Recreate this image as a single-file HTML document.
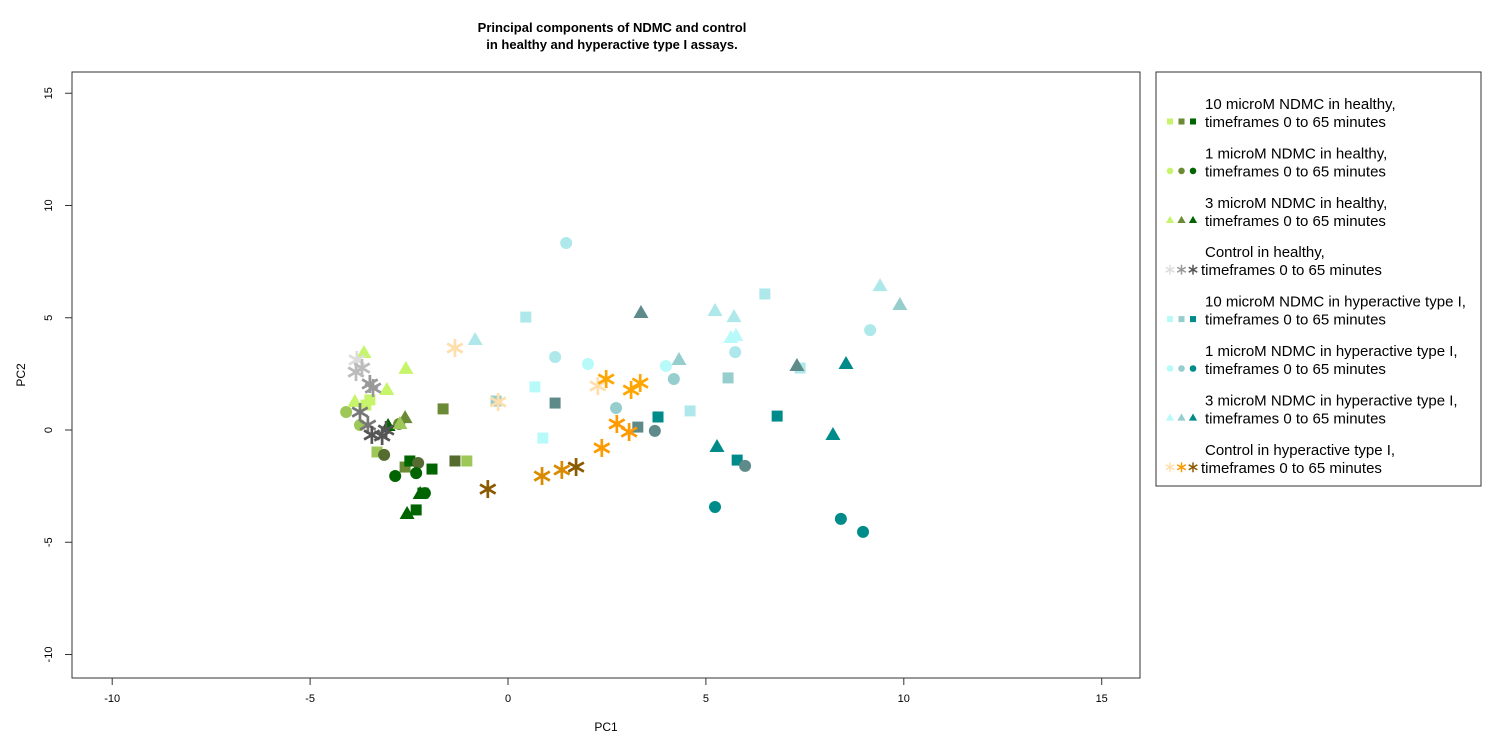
<!DOCTYPE html>
<html><head><meta charset="utf-8"><style>
body{margin:0;background:#fff;font-family:"Liberation Sans",sans-serif}
svg{display:block}
</style></head><body>
<svg id="chart" width="1500" height="750" font-family="Liberation Sans, sans-serif">
<text x="612" y="32" text-anchor="middle" font-size="13" font-weight="bold">Principal components of NDMC and control</text>
<text x="612" y="49" text-anchor="middle" font-size="13" font-weight="bold">in healthy and hyperactive type I assays.</text>
<rect x="72" y="72" width="1068" height="606" fill="none" stroke="#333"/>
<g id="axes"></g>
<g id="marks"></g>
<text x="606" y="731" text-anchor="middle" font-size="12">PC1</text>
<text x="25" y="375" text-anchor="middle" font-size="12" transform="rotate(-90 25 375)">PC2</text>
<rect x="1156" y="72" width="325" height="414" fill="none" stroke="#333"/>
<g id="legend"></g>
</svg>
<script>
const xTicks=[-10,-5,0,5,10,15];
const yTicks=[-10,-5,0,5,10,15];
const shadesGreen=["#c6f56b","#9dc858","#6b8a35","#556b2f","#006400"];
const shadesCyan=["#b8fafa","#aee8ea","#96cece","#5f8a8a","#008b8b"];
const shadesGray=["#dddddd","#bbbbbb","#999999","#777777","#555555"];
const shadesOrange=["#ffdead","#ffa500","#ff9900","#d98a00","#8b5a00"];
// healthy 10 microM squares
const h10x=[-3.59,-3.49,-1.64,-3.31,-2.60,-2.48,-1.92,-1.34,-1.04,-2.15,-2.32];
const h10y=[1.11,1.34,0.94,-0.98,-1.65,-1.38,-1.74,-1.38,-1.38,-2.81,-3.56];
const h10s=[0,0,2,1,2,4,4,3,1,4,4];
// healthy 1 microM circles
const h1x=[-4.09,-3.74,-3.13,-2.85,-2.27,-2.32,-2.10,-2.75];
const h1y=[0.80,0.22,-1.11,-2.05,-1.47,-1.92,-2.81,0.27];
const h1s=[1,1,3,4,3,4,4,2];
// healthy 3 microM triangles
const h3x=[-3.64,-2.58,-3.06,-3.87,-2.60,-3.03,-2.22,-2.55,-2.73];
const h3y=[3.43,2.72,1.78,1.25,0.53,0.18,-2.85,-3.74,0.27];
const h3s=[0,0,0,0,2,4,4,4,1];
// control healthy stars
const chx=[-3.82,-3.69,-3.84,-3.49,-3.41,-3.74,-3.54,-3.44,-3.18,-3.08];
const chy=[3.12,2.76,2.58,2.05,1.87,0.80,0.22,-0.22,-0.27,0];
const chs=[0,1,1,2,2,3,3,4,4,4];
// hyperactive 10 microM squares
const y10x=[0.45,0.68,0.88,-0.30,1.19,3.28,3.79,4.60,5.56,6.49,6.80,5.79,7.38];
const y10y=[5.03,1.92,-0.36,1.29,1.20,0.13,0.58,0.85,2.32,6.06,0.62,-1.34,2.76];
const y10s=[1,0,0,2,3,3,4,1,2,1,4,4,1];
// hyperactive 1 microM circles
const y1x=[1.47,1.19,2.02,3.99,2.73,4.19,5.74,3.71,5.99,9.15,5.23,8.41,8.97];
const y1y=[8.33,3.25,2.94,2.85,0.98,2.27,3.47,-0.04,-1.60,4.45,-3.43,-3.96,-4.54];
const y1s=[1,1,0,0,2,2,1,3,3,1,4,4,4];
// hyperactive 3 microM triangles
const y3x=[-0.83,3.36,4.32,5.23,5.71,5.76,5.63,7.30,8.54,5.28,8.21,9.40,9.90];
const y3y=[4.01,5.21,3.12,5.30,5.03,4.19,4.10,2.85,2.94,-0.76,-0.22,6.41,5.57];
const y3s=[1,3,2,1,1,0,0,3,4,4,4,1,2];
// control hyperactive stars
const cyx=[-1.34,-0.25,2.27,2.48,3.34,3.11,2.75,3.06,2.37,0.86,1.36,1.72,-0.51];
const cyy=[3.65,1.25,1.96,2.27,2.09,1.78,0.27,-0.09,-0.80,-2.05,-1.78,-1.65,-2.63];
const cys=[0,0,0,1,1,1,2,2,2,3,3,4,4];

const NS="http://www.w3.org/2000/svg";
const sx=v=>508+(v)*39.58;
const sy=v=>430-(v)*22.45;
const axes=document.getElementById('axes');
function mk(tag,attrs,parent){const e=document.createElementNS(NS,tag);for(const k in attrs)e.setAttribute(k,attrs[k]);parent.appendChild(e);return e;}
xTicks.forEach(t=>{
  const l=mk('line',{x1:sx(t),x2:sx(t),y1:678,y2:685,stroke:'#333'},axes);
  
  
  const tx=mk('text',{x:sx(t),y:702,'text-anchor':'middle','font-size':11},axes);tx.textContent=t;
  
  
});
yTicks.forEach(t=>{
  const l=mk('line',{x1:65,x2:72,y1:sy(t),y2:sy(t),stroke:'#333'},axes);
  
  
  const tx=mk('text',{x:0,y:0,'text-anchor':'middle','font-size':11,transform:`translate(52 ${sy(t)}) rotate(-90)`},axes);tx.textContent=t;
  
  
});
function shape(g,kind,x,y,c,s){
  let e;
  if(kind==='sq')e=mk('rect',{x:x-5.5*s,y:y-5.5*s,width:11*s,height:11*s,fill:c},g);
  else if(kind==='ci')e=mk('circle',{cx:x,cy:y,r:6*s,fill:c},g);
  else if(kind==='tr')e=mk('polygon',{points:`${x},${y-8*s} ${x-7.5*s},${y+5*s} ${x+7.5*s},${y+5*s}`,fill:c},g);
  else{
    e=mk('g',{stroke:c,'stroke-width':2.7*s},g);
    const r=9*s;
    [0,60,120].forEach(a=>{const ra=a*Math.PI/180;mk('line',{x1:x-r*Math.sin(ra),y1:y-r*Math.cos(ra),x2:x+r*Math.sin(ra),y2:y+r*Math.cos(ra)},e);});
  }
  return e;
}
const marks=document.getElementById('marks');
const series=[
 ['healthy-10','sq',h10x,h10y,h10s,shadesGreen],
 ['healthy-1','ci',h1x,h1y,h1s,shadesGreen],
 ['healthy-3','tr',h3x,h3y,h3s,shadesGreen],
 ['control-healthy','st',chx,chy,chs,shadesGray],
 ['hyper-10','sq',y10x,y10y,y10s,shadesCyan],
 ['hyper-1','ci',y1x,y1y,y1s,shadesCyan],
 ['hyper-3','tr',y3x,y3y,y3s,shadesCyan],
 ['control-hyper','st',cyx,cyy,cys,shadesOrange]];
series.forEach(([name,kind,xs,ys,ss,pal])=>{
  xs.forEach((v,i)=>{
    const e=shape(marks,kind,sx(v),sy(ys[i]),pal[ss[i]],1);
    
    
  });
});
const legendLabels=["10 microM NDMC in healthy,","1 microM NDMC in healthy,","3 microM NDMC in healthy,","Control in healthy,","10 microM NDMC in hyperactive type I,","1 microM NDMC in hyperactive type I,","3 microM NDMC in hyperactive type I,","Control in hyperactive type I,"];
const lg=document.getElementById('legend');
series.forEach(([name,kind,,,,pal],i)=>{
  const y0=107+i*49.4;
  const g=mk('g',{},lg);
  
  
  [0,2,4].forEach((p,j)=>shape(g,kind,1170+j*11.5,y0+14.5,pal[p],0.55));
  const xt=kind==='st'?1201:1205;
  const t1=mk('text',{x:1205,y:y0+2,'font-size':15},g);t1.textContent=legendLabels[i];
  const t2=mk('text',{x:xt,y:y0+20,'font-size':15},g);t2.textContent="timeframes 0 to 65 minutes";
});
</script>
</body></html>
